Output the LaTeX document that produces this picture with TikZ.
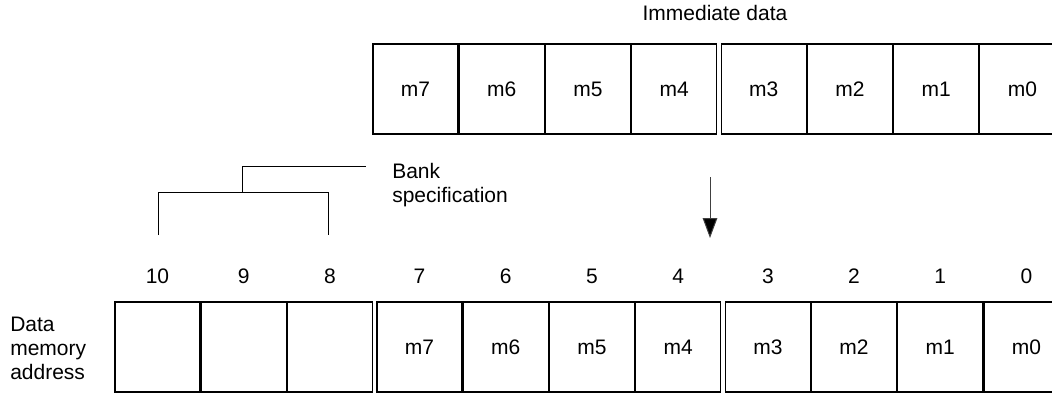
\documentclass[tikz,border=0pt]{standalone}
\usepackage{fontspec}
\setmainfont{Liberation Sans}
\usetikzlibrary{positioning,arrows.meta}

\begin{document}
\begin{tikzpicture}[x=0.75pt,y=-0.75pt,>={Triangle[length=15pt,width=11pt,fill=black]},node distance=0pt,
  cell/.style={draw,line width=0.9pt,minimum width=63.75pt,minimum height=67.5pt,inner sep=0pt,
    font=\fontsize{15.75pt}{18pt}\selectfont},
  bit/.style={inner sep=0pt,text height=11.3pt,text depth=0pt,font=\fontsize{15.75pt}{18pt}\selectfont},
  txt/.style={inner sep=0pt,align=left,font=\fontsize{15.75pt}{18pt}\selectfont}]
  \useasboundingbox (0,0) rectangle (1052,394);

  % immediate data
  \node[txt] (imm) at (715,13) {Immediate data};
  \node[cell] (t7) at (415.5,89) {m7};
  \node[cell] (t6) [right=of t7] {m6};
  \node[cell] (t5) [right=of t6] {m5};
  \node[cell] (t4) [right=of t5] {m4};
  \node[cell] (t3) [right=2.6pt of t4] {m3};
  \node[cell] (t2) [right=of t3] {m2};
  \node[cell] (t1) [right=of t2] {m1};
  \node[cell] (t0) [right=of t1] {m0};

  % data memory address
  \node[txt,anchor=west] (dma) at (10,348) {Data\\memory\\address};
  \node[cell] (b10) at (157.5,347) {};
  \node[cell] (b9) [right=of b10] {};
  \node[cell] (b8) [right=of b9] {};
  \node[cell] (b7) [right=2.6pt of b8] {m7};
  \node[cell] (b6) [right=of b7] {m6};
  \node[cell] (b5) [right=of b6] {m5};
  \node[cell] (b4) [right=of b5] {m4};
  \node[cell] (b3) [right=2.6pt of b4] {m3};
  \node[cell] (b2) [right=of b3] {m2};
  \node[cell] (b1) [right=of b2] {m1};
  \node[cell] (b0) [right=of b1] {m0};

  \node[bit] (n10) [above=13pt of b10] {10};
  \node[bit] (n9) [above=13pt of b9] {9};
  \node[bit] (n8) [above=13pt of b8] {8};
  \node[bit] (n7) [above=13pt of b7] {7};
  \node[bit] (n6) [above=13pt of b6] {6};
  \node[bit] (n5) [above=13pt of b5] {5};
  \node[bit] (n4) [above=13pt of b4] {4};
  \node[bit] (n3) [above=13pt of b3] {3};
  \node[bit] (n2) [above=13pt of b2] {2};
  \node[bit] (n1) [above=13pt of b1] {1};
  \node[bit] (n0) [above=13pt of b0] {0};

  % bank bracket
  \node[txt,anchor=west] (bank) at (392,185) {Bank\\specification};
  \coordinate (bkl) at (158,235);
  \coordinate (bkr) at (328,235);
  \coordinate (bkm) at (242.5,192);
  \coordinate (bke) at (366,166);
  \draw[line width=0.75pt] (bkl) -- ++(0,-43) -| (bkr);
  \draw[line width=0.75pt] (bkm) |- (bke);

  % transfer arrow
  \coordinate (arrS) at (710,177);
  \coordinate (arrE) at (710,238);
  \draw[->,line width=0.75pt,black!75] (arrS) -- (arrE);
\end{tikzpicture}
\end{document}
